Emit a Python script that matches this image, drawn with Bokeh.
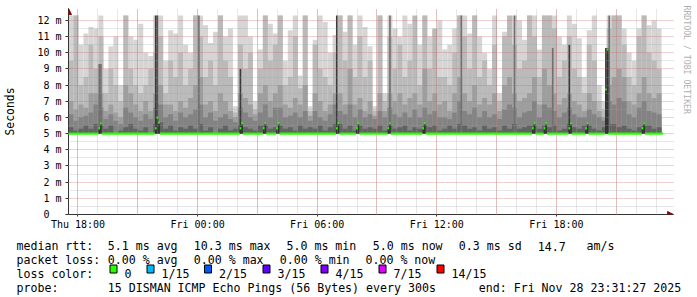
import math
from datetime import datetime, timedelta
import numpy as np
from bokeh.plotting import figure
from bokeh.layouts import column
from bokeh.models import (Range1d, FixedTicker, DatetimeTickFormatter, Arrow,
                          NormalHead, Title)
from bokeh.core.properties import value
from bokeh.embed import file_html
from bokeh.resources import INLINE

# ---------------- data ----------------
start_time = datetime(2025, 11, 27, 17, 31, 27)
end_time = datetime(2025, 11, 28, 23, 31, 27)
column_minutes = 15
step_minutes = 5
smoke_floor_ms = 5.0

# smoke bands per 15-minute column (12.3 = top of the drawing)
smoke_p100_ms = [12.3, 12.3, 10.5, 11.2, 11.6, 11.5, 12.3, 9.0, 10.4, 11.0,
                 8.0, 12.3, 11.0, 10.8, 11.8, 10.0, 9.8, 12.3, 12.3, 9.5,
                 11.4, 11.2, 12.3, 10.5, 10.0, 12.3, 12.3, 11.7, 10.6, 11.3,
                 12.3, 11.0, 11.5, 6.7, 12.3, 12.3, 11.0, 7.0, 10.2, 12.3,
                 11.8, 11.2, 12.3, 9.5, 11.4, 12.3, 8.6, 12.3, 6.7, 10.8,
                 12.3, 11.9, 10.0, 11.1, 12.3, 11.3, 12.3, 10.5, 12.3, 11.6,
                 10.4, 6.7, 12.3, 7.5, 12.3, 11.5, 11.0, 12.3, 11.8, 10.9,
                 10.5, 12.3, 11.0, 11.4, 12.0, 10.2, 10.5, 11.5, 12.3, 12.3,
                 11.2, 12.3, 11.0, 10.0, 9.0, 12.3, 7.5, 11.3, 11.6, 12.3,
                 12.0, 10.8, 12.3, 12.3, 10.2, 12.3, 12.3, 12.3, 11.0, 10.5,
                 12.3, 11.8, 10.9, 8.5, 11.4, 12.3, 8.0, 7.0, 12.3, 12.3,
                 12.3, 11.5, 10.0, 9.5, 11.5, 12.3, 11.7, 12.0, 11.5]
smoke_p90_ms = [9.5, 12.3, 8.0, 8.5, 10.5, 9.0, 11.0, 7.5, 9.0, 8.0,
                7.0, 12.3, 9.0, 8.0, 7.5, 8.0, 9.0, 10.0, 11.0, 7.5,
                9.5, 8.5, 10.0, 8.0, 9.0, 12.3, 11.0, 8.5, 9.5, 8.0,
                12.3, 9.5, 8.5, 6.3, 10.5, 9.0, 10.0, 6.5, 9.0, 12.3,
                9.5, 10.5, 12.3, 8.0, 8.5, 11.0, 7.8, 12.3, 6.4, 10.5,
                9.0, 8.5, 8.0, 10.0, 12.3, 9.5, 12.3, 8.5, 11.0, 8.5,
                9.5, 6.4, 12.3, 7.0, 11.0, 9.0, 10.5, 8.5, 9.5, 12.3,
                8.0, 12.3, 9.0, 11.5, 8.5, 8.5, 8.0, 10.0, 12.3, 11.0,
                9.0, 12.3, 8.5, 9.5, 8.0, 10.5, 7.0, 11.0, 12.3, 10.5,
                9.0, 9.5, 12.3, 11.0, 8.5, 12.3, 12.3, 11.5, 8.5, 9.5,
                11.0, 9.0, 8.5, 7.5, 10.5, 9.5, 7.0, 6.5, 11.5, 12.3,
                12.3, 10.5, 8.5, 8.0, 11.0, 12.3, 10.0, 9.5, 9.0]
smoke_p75_ms = [7.0, 6.5, 6.8, 6.6, 7.5, 7.5, 7.5, 6.4, 6.8, 6.3,
                6.0, 8.0, 7.5, 6.8, 6.4, 7.0, 6.4, 7.5, 8.0, 6.8,
                6.8, 6.4, 7.0, 6.6, 7.2, 8.0, 8.5, 6.8, 7.0, 6.4,
                7.5, 7.0, 6.4, 6.0, 7.5, 7.2, 6.8, 6.2, 7.5, 8.0,
                7.0, 7.5, 8.0, 6.8, 6.6, 7.2, 6.8, 8.0, 6.1, 7.5,
                7.0, 6.4, 6.8, 7.5, 7.5, 6.8, 9.0, 6.8, 7.2, 6.4,
                7.0, 6.1, 7.5, 6.4, 7.5, 7.0, 7.5, 6.8, 7.2, 7.5,
                6.8, 9.0, 7.0, 7.5, 6.8, 7.0, 6.4, 7.5, 8.5, 7.5,
                7.0, 8.0, 6.8, 7.2, 6.8, 7.5, 6.4, 8.0, 8.5, 7.5,
                7.0, 7.2, 7.5, 8.5, 6.8, 9.0, 8.0, 7.5, 6.8, 7.2,
                7.5, 7.0, 6.8, 6.4, 7.5, 7.0, 6.4, 6.0, 8.0, 8.5,
                9.0, 8.5, 7.0, 6.8, 7.5, 8.5, 7.5, 7.2, 7.5]
smoke_p65_ms = [6.2, 5.8, 6.0, 6.1, 6.3, 6.8, 6.6, 5.9, 6.2, 5.8,
                5.6, 6.6, 6.3, 6.0, 5.8, 6.2, 5.9, 6.6, 6.8, 6.0,
                6.2, 5.8, 6.3, 6.0, 6.2, 6.5, 6.8, 6.0, 6.3, 5.8,
                6.0, 6.2, 5.9, 5.7, 6.6, 6.3, 6.0, 5.8, 6.3, 6.8,
                6.0, 6.6, 6.6, 6.0, 6.1, 6.3, 6.0, 6.4, 5.8, 6.4,
                6.0, 5.8, 6.2, 6.8, 6.4, 6.2, 6.8, 6.0, 6.5, 6.0,
                6.2, 5.9, 6.4, 6.0, 6.6, 6.2, 6.0, 6.3, 6.0, 6.5,
                6.0, 6.6, 6.2, 6.4, 6.0, 6.0, 5.9, 6.3, 7.0, 6.4,
                6.2, 6.6, 6.0, 6.4, 6.0, 6.2, 5.9, 6.5, 6.8, 6.6,
                6.0, 6.3, 6.4, 7.0, 6.0, 6.8, 6.6, 6.4, 6.0, 6.3,
                6.6, 6.2, 6.0, 6.0, 6.5, 6.2, 6.0, 5.8, 7.0, 6.8,
                7.2, 7.0, 6.2, 6.0, 6.6, 7.0, 6.4, 6.3, 6.2]
smoke_p55_ms = [5.4, 5.2, 5.3, 5.5, 5.3, 5.6, 5.5, 5.3, 5.5, 5.0,
                5.2, 5.4, 5.6, 5.3, 5.2, 5.4, 5.0, 5.6, 5.7, 5.3,
                5.5, 5.2, 5.4, 5.3, 5.5, 5.3, 5.6, 5.2, 5.4, 5.0,
                5.3, 5.5, 5.2, 5.3, 5.5, 5.4, 5.3, 5.2, 5.5, 5.5,
                5.3, 5.4, 5.5, 5.3, 5.4, 5.2, 5.5, 5.3, 5.4, 5.3,
                5.5, 5.2, 5.4, 5.6, 5.6, 5.3, 5.5, 5.2, 5.5, 5.3,
                5.4, 5.3, 5.5, 5.2, 5.5, 5.3, 5.4, 5.5, 5.2, 5.4,
                5.3, 5.5, 5.4, 5.5, 5.2, 5.3, 5.5, 5.3, 5.6, 5.5,
                5.3, 5.4, 5.2, 5.5, 5.3, 5.4, 5.2, 5.5, 5.3, 5.6,
                5.3, 5.4, 5.5, 5.5, 5.3, 5.5, 5.4, 5.5, 5.2, 5.3,
                5.6, 5.4, 5.3, 5.5, 5.5, 5.3, 5.2, 5.4, 5.6, 5.6,
                5.4, 5.5, 5.3, 5.2, 5.4, 5.5, 5.5, 5.3, 5.4]

# narrow dark streaks of the smoke (5-minute steps)
streak_mid_steps = [18, 19, 78, 193, 236, 268, 291, 325]
streak_mid_top_ms = [9.3, 9.3, 12.3, 12.3, 12.3, 12.3, 10.3, 12.3]
streak_dark_steps = [52, 53, 161, 103, 301, 323, 324]
streak_dark_top_ms = [12.3, 12.3, 12.3, 9.0, 10.5, 10.3, 10.3]

# median rtt (5-minute steps): flat 5.0 ms except for these steps
median_flat_ms = 5.0
median_step_count = 358
median_spike_steps = [18, 19, 52, 53, 54, 103, 104, 117, 118, 125, 126, 161, 162,
                      173, 174, 192, 193, 213, 214, 279, 280, 286, 287, 301, 302,
                      311, 312, 323, 324, 345, 346]
median_spike_ms = [5.33, 5.64, 5.33, 5.99, 5.68, 5.33, 5.64, 5.33, 5.64, 5.33, 5.64,
                   5.33, 5.64, 5.33, 5.64, 5.33, 5.64, 5.33, 5.64, 5.33, 5.64,
                   5.33, 5.64, 5.33, 5.64, 5.33, 5.64, 7.73, 10.2, 5.33, 5.64]

x_label_times = [datetime(2025, 11, 27, 18), datetime(2025, 11, 28, 0),
                 datetime(2025, 11, 28, 6), datetime(2025, 11, 28, 12),
                 datetime(2025, 11, 28, 18)]
y_tick_values = list(range(13))
y_tick_labels = ["0\u00a0\u00a0"] + [f"{v} m" for v in range(1, 13)]

rtt_stats = [("avg", 5.1), ("max", 10.3), ("min", 5.0), ("now", 5.0), ("sd", 0.3)]
am_per_s = 14.7
loss_stats = [("avg", 0.00), ("max", 0.00), ("min", 0.00), ("now", 0.00)]
loss_labels = ["0", "1/15", "2/15", "3/15", "4/15", "7/15", "14/15"]
loss_colors = ["#26ff00", "#00b8ff", "#0059ff", "#5e00ff", "#7e00ff", "#dd00ff", "#ff0000"]
probe_text = "15 DISMAN ICMP Echo Pings (56 Bytes) every 300s"
end_text = "end: Fri Nov 28 23:31:27 2025"

# ---------------- main figure ----------------
EPOCH = datetime(1970, 1, 1)
def ms(dt):
    return (dt - EPOCH).total_seconds() * 1000.0

start_ms, end_ms = ms(start_time), ms(end_time)
PX_MS = (end_ms - start_ms) / 600.0        # 600 px of plot for 30 h
FL, FR, FT, FB = 67, 674, 8, 215
MAIN_H = 232
PX_V = 16.25                                 # px per ms on the value axis

def X(px):
    return start_ms + (px - 67) * PX_MS

def Y(py):
    return (FB - py) / PX_V

p = figure(width=697, height=MAIN_H, x_axis_type="datetime",
           x_range=Range1d(start_ms, X(FR)), y_range=Range1d(0, Y(FT)),
           output_backend="svg", toolbar_location=None,
           min_border_left=FL, min_border_right=697 - FR,
           min_border_top=FT, min_border_bottom=MAIN_H - FB)
p.outline_line_color = None
p.background_fill_color = "white"
p.border_fill_color = "white"

mono = "DejaVu Sans Mono"

# smoke
n_cols = len(smoke_p100_ms)
col_left = [start_time + timedelta(minutes=column_minutes * k) for k in range(n_cols)]
col_right = [start_time + timedelta(minutes=column_minutes * (k + 1)) for k in range(n_cols)]
floor = [smoke_floor_ms] * n_cols
for tops, color in [(smoke_p100_ms, "#d5d5d5"), (smoke_p90_ms, "#bababa"),
                    (smoke_p75_ms, "#9e9e9e"), (smoke_p65_ms, "#838383"),
                    (smoke_p55_ms, "#626262")]:
    p.quad(left=col_left, right=col_right, bottom=floor, top=tops,
           fill_color=color, line_color=None)

def step_quads(steps, tops, color, level="glyph"):
    lefts = [start_time + timedelta(minutes=step_minutes * s) for s in steps]
    rights = [start_time + timedelta(minutes=step_minutes * (s + 1)) for s in steps]
    p.quad(left=lefts, right=rights, bottom=[smoke_floor_ms] * len(steps), top=tops,
           fill_color=color, line_color=None, level=level)

step_quads(streak_mid_steps, streak_mid_top_ms, "#707070")
step_quads(streak_dark_steps, streak_dark_top_ms, "#3a3a3a")
step_quads(median_spike_steps, median_spike_ms, "#323232")

# median line (loss 0 -> green), drawn as runs of equal value
med = np.full(median_step_count, median_flat_ms)
med[median_spike_steps] = median_spike_ms
runs = []
i = 0
while i < median_step_count:
    j = i
    while j + 1 < median_step_count and med[j + 1] == med[i]:
        j += 1
    runs.append((i, j + 1, med[i]))
    i = j + 1
half = 1.1 / PX_V
p.quad(left=[start_time + timedelta(minutes=step_minutes * a) for a, b, v in runs],
       right=[start_time + timedelta(minutes=step_minutes * b) for a, b, v in runs],
       bottom=[v - half for a, b, v in runs], top=[v + half for a, b, v in runs],
       fill_color=loss_colors[0], line_color=None, level="overlay")

# axes
p.xaxis.ticker = FixedTicker(ticks=[ms(t) for t in x_label_times])
fmt = "%a %H:%M"
p.xaxis.formatter = DatetimeTickFormatter(hours=fmt, hourmin=fmt, days=fmt, minutes=fmt,
                                          minsec=fmt, seconds=fmt, months=fmt, years=fmt)
p.yaxis.ticker = FixedTicker(ticks=y_tick_values)
p.yaxis.major_label_overrides = dict(zip(y_tick_values, y_tick_labels))
for ax in (p.xaxis, p.yaxis):
    ax.axis_line_color = "#333333"
    ax.major_tick_line_color = "#333333"
    ax.minor_tick_line_color = None
    ax.major_tick_in = 0
    ax.major_label_text_font = mono
    ax.major_label_text_font_size = "10px"
    ax.major_label_text_color = "black"
p.xaxis.major_tick_out = 2
p.xaxis.major_label_standoff = 2
p.yaxis.major_tick_out = 3
p.yaxis.major_label_standoff = 4
p.yaxis.axis_label = "Seconds"
p.yaxis.axis_label_text_font = mono
p.yaxis.axis_label_text_font_size = "11.4px"
p.yaxis.axis_label_text_font_style = "normal"
p.yaxis.axis_label_text_color = "black"
p.yaxis.axis_label_standoff = 17

# grid (drawn above smoke)
hour_ms = 3600 * 1000.0
first = ms(x_label_times[0])
p.xgrid.ticker = FixedTicker(ticks=[first + 3 * k * hour_ms for k in range(10)],
                             minor_ticks=[first + k * hour_ms for k in range(30)])
p.ygrid.ticker = FixedTicker(ticks=y_tick_values,
                             minor_ticks=[v + 0.5 for v in y_tick_values[:-1]])
for g in (p.xgrid, p.ygrid):
    g.grid_line_color = "#d06060"
    g.grid_line_alpha = 0.6
    g.grid_line_dash = "1 1"
    g.minor_grid_line_color = "#a0a0a0"
    g.minor_grid_line_alpha = 0.5
    g.minor_grid_line_dash = "1 1"
    g.level = "guide"

# arrows at the axis ends
p.add_layout(Arrow(end=NormalHead(size=6, fill_color="#a00000", line_color="#a00000"),
                   x_start=start_ms, y_start=12.3, x_end=start_ms, y_end=Y(FT),
                   line_color="#333333", line_width=1))
p.add_layout(Arrow(end=NormalHead(size=6, fill_color="#a00000", line_color="#a00000"),
                   x_start=end_ms, y_start=0, x_end=X(FR), y_end=0,
                   line_color="#333333", line_width=1))

# watermark on the right
p.add_layout(Title(text="RRDTOOL / TOBI OETIKER", align="left", vertical_align="top",
                   text_font=mono, text_font_size="8.2px", text_font_style="normal",
                   text_color="#b0b0b0", offset=-3, standoff=12), "right")

# ---------------- legend area below ----------------
leg = figure(width=697, height=297 - MAIN_H, x_range=Range1d(0, 697),
             y_range=Range1d(297, MAIN_H), output_backend="svg", toolbar_location=None,
             min_border=0, x_axis_location=None, y_axis_location=None)
leg.outline_line_color = None
leg.grid.visible = False
leg.background_fill_color = "white"
leg.border_fill_color = "white"
for fig in (p, leg):
    try:
        fig.frame_align = False
    except Exception:
        pass

L1, L2, L3, L4 = 245.5, 259.5, 273.3, 287.0
tx, ty, tt = [], [], []
def put(px, py, s):
    tx.append(px); ty.append(py); tt.append(s)

put(16, L1, "median rtt:")
for (name, v), px in zip(rtt_stats, [107.3, 193.3, 286.0, 372.3, 458.3]):
    put(px, L1, f"{v:.1f} ms {name}")
put(537.3, L1, f"{am_per_s:.1f}")
put(586.0, L1, "am/s")
put(16, L2, "packet loss:")
for (name, v), px in zip(loss_stats, [107.3, 193.3, 279.3, 365.0]):
    put(px, L2, f"{v:.2f} % {name}")
put(16, L3, "loss color:")
box_left = [109, 146, 203.5, 262, 320, 378, 436]
for lab, px in zip(loss_labels, box_left):
    put(px + 15, L3, lab)
put(16, L4, "probe:")
put(107.3, L4, probe_text)
put(478.3, L4, end_text)

leg.text(x=tx, y=ty, text=tt, text_font=value(mono), text_font_size=value("11.6px"),
         text_color="black", text_align="left", text_baseline="alphabetic")
leg.quad(left=[b + 0.5 for b in box_left], right=[b + 7.5 for b in box_left],
         top=[264.5] * len(box_left), bottom=[272.5] * len(box_left),
         fill_color=loss_colors, line_color="black", line_width=1)

layout = column(p, leg, spacing=0)
open("out.html", "w").write(file_html(layout, INLINE))
